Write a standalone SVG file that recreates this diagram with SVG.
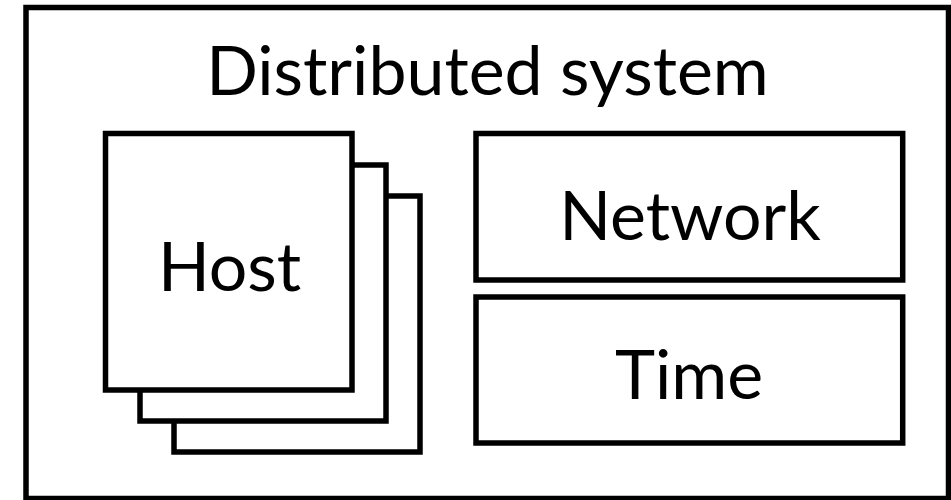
<svg xmlns="http://www.w3.org/2000/svg" width="951" height="500" viewBox="0 0 951 500">
  <style>
    .box { fill: #ffffff; stroke: #000000; stroke-width: 5.5; }
    .label { font-family: Lato, "Open Sans", sans-serif; font-size: 68px; fill: #000000; text-anchor: middle; }
  </style>
  <rect width="951" height="500" fill="#ffffff"/>
  <g id="distributed-system">
    <rect class="box" x="26" y="7.5" width="922.5" height="491"/>
    <text class="label" x="487.5" y="95">Distributed system</text>
  </g>
  <g id="host">
    <rect class="box" x="174" y="196" width="246" height="256"/>
    <rect class="box" x="140" y="165" width="246" height="256"/>
    <rect class="box" x="105.5" y="133.5" width="246.5" height="256.5"/>
    <text class="label" x="229.5" y="291">Host</text>
  </g>
  <g id="network">
    <rect class="box" x="476" y="133.5" width="426.7" height="146.5"/>
    <text class="label" x="690" y="240">Network</text>
  </g>
  <g id="time">
    <rect class="box" x="476" y="297" width="426.7" height="146"/>
    <text class="label" x="689" y="399">Time</text>
  </g>
  <g id="connectors"/>
</svg>
